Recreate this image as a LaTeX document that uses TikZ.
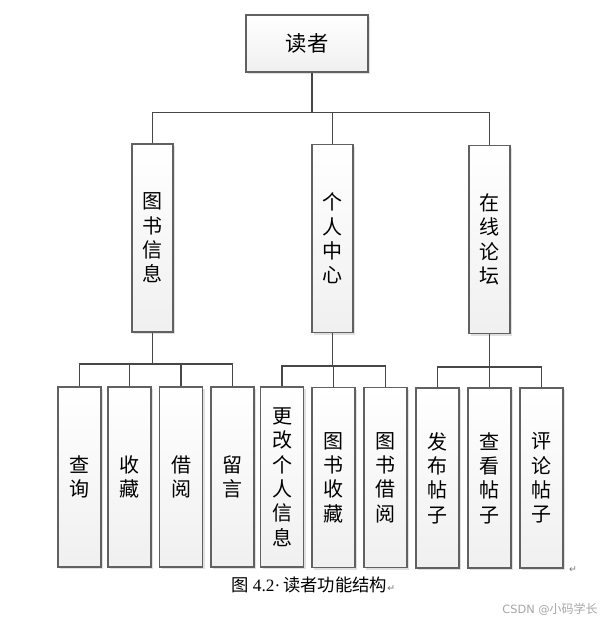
\documentclass[tikz,border=0pt]{standalone}
\usepackage{fontspec}
\setmainfont{Liberation Serif}
\newfontfamily\cjkfont{Noto Sans CJK SC}
\newfontfamily\symfont{DejaVu Sans}
\usetikzlibrary{shadows}
\begin{document}
\begin{tikzpicture}[x=0.75pt,y=-0.75pt,
 box/.style={draw=black!62, line width=0.85pt, top color=white, bottom color=black!6,
   inner sep=0pt, align=center, font=\cjkfont\fontsize{15}{18.3}\selectfont,
   drop shadow={shadow xshift=1.6pt, shadow yshift=-1.6pt, fill=black!20, opacity=0.6}},
 rootbox/.style={box, minimum width=91.5pt, minimum height=42.75pt, font=\cjkfont\fontsize{16}{19}\selectfont},
 midbox/.style={box, minimum width=30.75pt, minimum height=141pt},
 leafbox/.style={box, minimum width=32.25pt, minimum height=135pt},
 conn/.style={draw=black!72, line width=1pt},
 pmark/.style={font=\symfont\fontsize{7}{8}\selectfont, text=black!55, inner sep=0pt}]
\useasboundingbox (0,0) rectangle (605,621);
% nodes
\node[rootbox] (r) at (307,43.5) {读者};
\node[midbox] (m1) at (152.5,238) {图\\书\\信\\息};
\node[midbox] (m2) at (332.5,238.5) {个\\人\\中\\心};
\node[midbox] (m3) at (489.5,239.5) {在\\线\\论\\坛};
\node[leafbox] (l1) at (79.5,477) {查\\询};
\node[leafbox] (l2) at (129.5,477) {收\\藏};
\node[leafbox] (l3) at (181,477) {借\\阅};
\node[leafbox] (l4) at (232.5,477) {留\\言};
\node[leafbox] (l5) at (282,477) {更\\改\\个\\人\\信\\息};
\node[leafbox] (l6) at (333.5,477.5) {图\\书\\收\\藏};
\node[leafbox] (l7) at (385.5,477.5) {图\\书\\借\\阅};
\node[leafbox] (l8) at (437.5,478) {发\\布\\帖\\子};
\node[leafbox] (l9) at (489.5,478) {查\\看\\帖\\子};
\node[leafbox] (l10) at (541.5,478) {评\\论\\帖\\子};
% bus coordinates
\coordinate (tb) at (312,112.5);
\coordinate (b1) at (0,364);
\coordinate (b2) at (0,366);
\coordinate (b3) at (0,367);
% top level
\draw[conn] (r.south -| tb) -- (tb);
\draw[conn] (m1.north) |- (m3.north |- tb) -- (m3.north);
\draw[conn] (m2.north) -- (m2.north |- tb);
% group 1
\draw[conn] (m1.south) -- (m1.south |- b1);
\draw[conn] (l1.north) |- (l4.north |- b1) -- (l4.north);
\draw[conn] (l2.north) -- (l2.north |- b1);
\draw[conn] (l3.north) -- (l3.north |- b1);
% group 2
\draw[conn] (m2.south) -- (m2.south |- b2);
\draw[conn] (l5.north) |- (l7.north |- b2) -- (l7.north);
\draw[conn] (l6.north) -- (l6.north |- b2);
% group 3
\draw[conn] (m3.south) -- (m3.south |- b3);
\draw[conn] (l8.north) |- (l10.north |- b3) -- (l10.north);
\draw[conn] (l9.north) -- (l9.north |- b3);
% caption and marks
\node[anchor=west, inner sep=0pt, font=\fontsize{13}{15}\selectfont] (cap) at (231,585)
  {{\cjkfont 图}\ 4.2·\,{\cjkfont 读者功能结构}{\symfont\fontsize{7}{8}\selectfont\color{black!55}↵}};
\node[pmark] (pm) at (573,570) {↵};
\node[anchor=east, inner sep=0pt, text=black!35, font=\fontsize{9}{10}\selectfont] (wm) at (598,609)
  {{\symfont\fontsize{8.5}{10}\selectfont CSDN @}{\cjkfont 小码学长}};
\end{tikzpicture}
\end{document}
